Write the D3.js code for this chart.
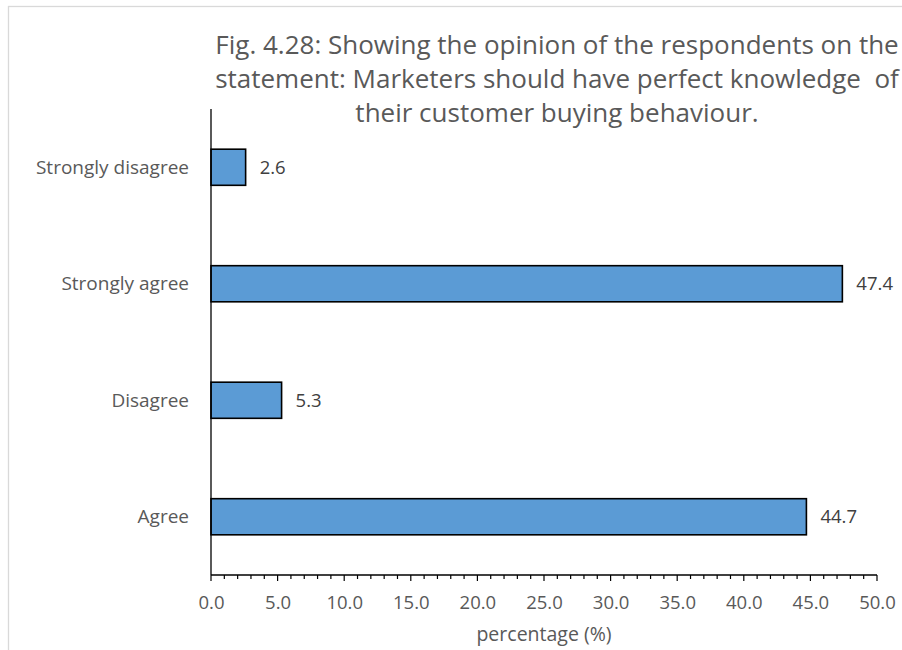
<!DOCTYPE html>
<html>
<head>
<meta charset="utf-8">
<script src="https://cdn.jsdelivr.net/npm/d3@7"></script>
<style>
  html, body { margin: 0; padding: 0; background: #fff; }
  svg { display: block; font-family: "Open Sans", "Noto Sans", sans-serif; }
</style>
</head>
<body>
<svg id="chart" width="902" height="650"></svg>
<script>
const categories = ["Agree", "Disagree", "Strongly agree", "Strongly disagree"];
const values = [44.7, 5.3, 47.4, 2.6];
const valueLabels = ["44.7", "5.3", "47.4", "2.6"];
const xTicks = [0, 5, 10, 15, 20, 25, 30, 35, 40, 45, 50];
const titleLines = [
  "Fig. 4.28: Showing the opinion of the respondents on the",
  "statement: Marketers should have perfect knowledge  of",
  "their customer buying behaviour."
];
const xAxisTitle = "percentage (%)";

const svg = d3.select("#chart");
const W = 902, H = 650;
const margin = { left: 211, right: 25, top: 109, bottom: 75 };
const plotW = W - margin.left - margin.right;
const plotH = H - margin.top - margin.bottom;

// chart area border
svg.append("rect")
  .attr("x", 8.5).attr("y", 6.5)
  .attr("width", 900).attr("height", 650)
  .attr("fill", "#fff").attr("stroke", "#d9d9d9").attr("stroke-width", 1.3);

const x = d3.scaleLinear().domain([0, 50]).range([margin.left, margin.left + plotW]);
const y = d3.scaleBand()
  .domain(categories.slice().reverse())
  .range([margin.top, margin.top + plotH])
  .paddingInner(0.69).paddingOuter(0.345);

// minor ticks
const minor = d3.range(0, 51, 1);
svg.append("g").selectAll("line").data(minor).join("line")
  .attr("x1", d => x(d)).attr("x2", d => x(d))
  .attr("y1", margin.top + plotH)
  .attr("y2", d => margin.top + plotH + (d % 5 === 0 ? 6 : 4))
  .attr("stroke", "#000").attr("stroke-width", 1.2);

// x axis labels via d3 axis
const xAxis = d3.axisBottom(x).tickValues(xTicks).tickFormat(d3.format(".1f")).tickSize(0).tickPadding(21);
const gx = svg.append("g").attr("transform", `translate(0,${margin.top + plotH})`).call(xAxis);
gx.select(".domain").remove();
gx.selectAll("text").attr("font-size", 18.5).attr("fill", "#595959").attr("font-family", "Open Sans");

// axis lines
svg.append("line")
  .attr("x1", margin.left).attr("x2", margin.left + plotW)
  .attr("y1", margin.top + plotH).attr("y2", margin.top + plotH)
  .attr("stroke", "#000").attr("stroke-width", 1.3);

// bars
svg.append("g").selectAll("rect").data(categories).join("rect")
  .attr("x", x(0))
  .attr("y", d => y(d))
  .attr("width", (d, i) => x(values[i]) - x(0))
  .attr("height", y.bandwidth())
  .attr("fill", "#5b9bd5")
  .attr("stroke", "#000").attr("stroke-width", 1.6);

svg.append("line")
  .attr("x1", margin.left).attr("x2", margin.left)
  .attr("y1", margin.top).attr("y2", margin.top + plotH)
  .attr("stroke", "#000").attr("stroke-width", 1.3);

// value labels
svg.append("g").selectAll("text").data(categories).join("text")
  .attr("x", (d, i) => x(values[i]) + 14)
  .attr("y", d => y(d) + y.bandwidth() / 2)
  .attr("dy", "0.35em")
  .attr("font-size", 18.5).attr("fill", "#404040")
  .text((d, i) => valueLabels[i]);

// category labels
svg.append("g").selectAll("text").data(categories).join("text")
  .attr("x", margin.left - 22)
  .attr("y", d => y(d) + y.bandwidth() / 2)
  .attr("dy", "0.35em")
  .attr("text-anchor", "end")
  .attr("font-size", 19).attr("fill", "#595959")
  .text(d => d);

// title
svg.append("g").selectAll("text").data(titleLines).join("text")
  .attr("x", 557)
  .attr("y", (d, i) => 54 + i * 34)
  .attr("text-anchor", "middle")
  .attr("font-size", 26).attr("fill", "#595959")
  .attr("xml:space", "preserve")
  .style("white-space", "pre")
  .text(d => d);

// x axis title
svg.append("text")
  .attr("x", (x(0) + x(50)) / 2)
  .attr("y", 641)
  .attr("text-anchor", "middle")
  .attr("font-size", 19.5).attr("fill", "#595959")
  .text(xAxisTitle);
</script>
</body>
</html>
